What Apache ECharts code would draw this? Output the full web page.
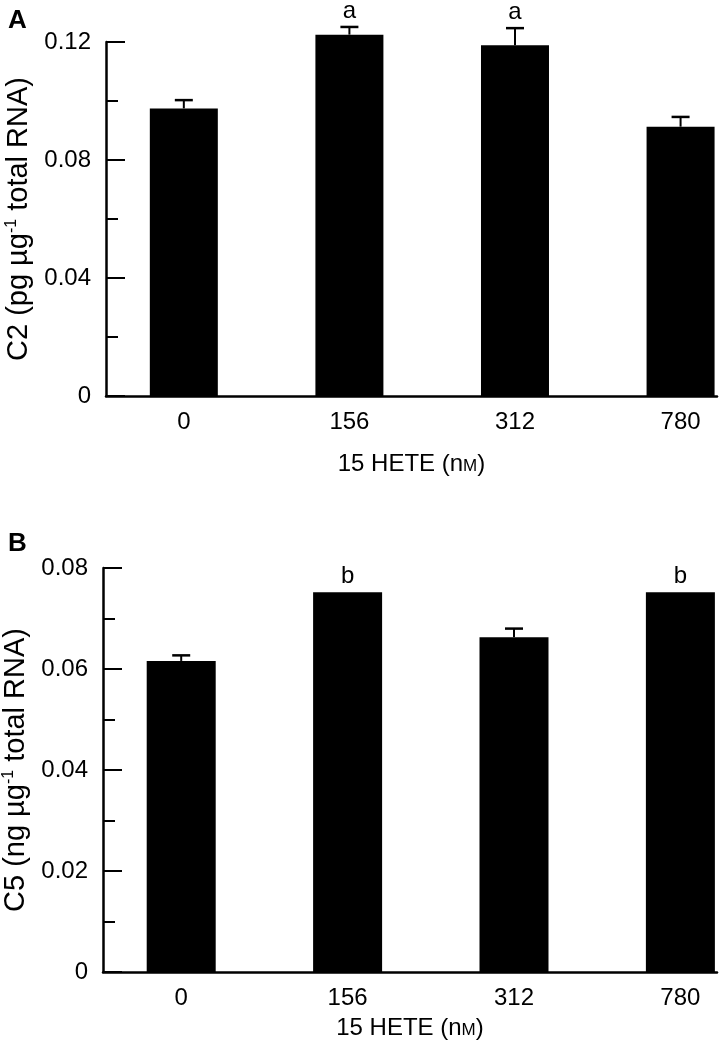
<!DOCTYPE html>
<html>
<head>
<meta charset="utf-8">
<script src="https://cdn.jsdelivr.net/npm/echarts@6/dist/echarts.min.js"></script>
<style>
html,body{margin:0;padding:0;background:#fff;}
#main{width:727px;height:1051px;}
</style>
</head>
<body>
<div id="main"></div>
<script>
// ---- data ----
const categories = ['0', '156', '312', '780'];
const c2Values = [0.0975, 0.1225, 0.1189, 0.0913];
const c2Errors = [0.0028, 0.0026, 0.0058, 0.0033];
const c2Letters = ['', 'a', 'a', ''];
const c5Values = [0.0616, 0.0752, 0.0663, 0.0752];
const c5Errors = [0.0011, 0, 0.0017, 0];
const c5Letters = ['', 'b', '', 'b'];
const c2Ticks = [0, 0.04, 0.08, 0.12];
const c5Ticks = [0, 0.02, 0.04, 0.06, 0.08];

const FONT = 'Liberation Sans';
const FS = 24;
const NFS = 29;

const chart = echarts.init(document.getElementById('main'), null, {renderer: 'canvas'});

function barData(vals) { return vals.map((v, i) => [i, v]); }
function errData(vals, errs, letters) { return vals.map((v, i) => [i, v, errs[i], letters[i]]); }

function errRender(params, api) {
  const x = api.value(0), v = api.value(1), e = api.value(2);
  const letter = api.value(3);
  const base = api.coord([x, v]);
  const top = api.coord([x, v + e]);
  const children = [];
  if (e > 0) {
    children.push({type: 'line', shape: {x1: base[0], y1: base[1], x2: top[0], y2: top[1]}, style: {stroke: '#000', lineWidth: 2}});
    children.push({type: 'line', shape: {x1: top[0] - 9, y1: top[1], x2: top[0] + 9, y2: top[1]}, style: {stroke: '#000', lineWidth: 2.5}});
  }
  if (letter) {
    children.push({type: 'text', x: top[0], y: top[1] - 4, style: {text: letter, fill: '#000', font: FS + 'px ' + FONT, textAlign: 'center', textVerticalAlign: 'bottom'}});
  }
  return {type: 'group', children: children};
}

function xAxisCfg(gridIndex, nameGap) {
  return {
    type: 'value', gridIndex: gridIndex, min: -0.47, max: 3.22,
    axisLine: {show: true, onZero: false, lineStyle: {color: '#000', width: 2.5}},
    axisTick: {show: false},
    splitLine: {show: false},
    axisLabel: {
      customValues: [0, 1, 2, 3],
      formatter: v => categories[Math.round(v)],
      color: '#000', fontSize: FS, fontFamily: FONT, margin: 14
    },
    name: '{t|15 HETE (n}{s|M}{t|)}',
    nameLocation: 'middle', nameGap: nameGap,
    nameTextStyle: {rich: {t: {fontSize: FS, fontFamily: FONT, color: '#000'}, s: {fontSize: 17, fontFamily: FONT, color: '#000', padding: [4, 0, 0, 0]}}}
  };
}

function yAxisCfg(gridIndex, max, interval, label, nameGap) {
  return {
    type: 'value', gridIndex: gridIndex, min: 0, max: max, interval: interval,
    axisLine: {show: true, onZero: false, lineStyle: {color: '#000', width: 2.5}},
    axisTick: {show: true, inside: true, length: 19, lineStyle: {color: '#000', width: 2}},
    minorTick: {show: true, splitNumber: 2, length: 12, lineStyle: {color: '#000', width: 2}},
    splitLine: {show: false},
    axisLabel: {color: '#000', fontSize: FS, fontFamily: FONT, margin: 15,
      formatter: v => (v === 0 ? '0' : String(+v.toFixed(2)))},
    name: label,
    nameLocation: 'middle', nameGap: nameGap, nameRotate: 90,
    nameTextStyle: {rich: {t: {fontSize: NFS, fontFamily: FONT, color: '#000'}, s: {fontSize: 16, fontFamily: FONT, color: '#000', padding: [0, 0, 14, 0]}}}
  };
}

chart.setOption({
  backgroundColor: '#fff',
  animation: false,
  title: [
    {text: 'A', left: 3, top: 3, textStyle: {fontSize: 26, fontWeight: 'bold', fontFamily: FONT, color: '#000'}},
    {text: 'B', left: 3, top: 526, textStyle: {fontSize: 26, fontWeight: 'bold', fontFamily: FONT, color: '#000'}}
  ],
  grid: [
    {left: 106, top: 42, right: 10, height: 354, containLabel: false, outerBoundsMode: 'none'},
    {left: 103, top: 568, right: 10, height: 404, containLabel: false, outerBoundsMode: 'none'}
  ],
  xAxis: [xAxisCfg(0, 56), xAxisCfg(1, 44)],
  yAxis: [
    yAxisCfg(0, 0.12, 0.04, '{t|C2 (pg µg}{s|-1}{t| total RNA)}', 72),
    yAxisCfg(1, 0.08, 0.02, '{t|C5 (ng µg}{s|-1}{t| total RNA)}', 69)
  ],
  series: [
    {type: 'bar', xAxisIndex: 0, yAxisIndex: 0, data: barData(c2Values), barWidth: 68, clip: false, itemStyle: {color: '#000'}},
    {type: 'custom', xAxisIndex: 0, yAxisIndex: 0, data: errData(c2Values, c2Errors, c2Letters), renderItem: errRender, clip: false, z: 5},
    {type: 'bar', xAxisIndex: 1, yAxisIndex: 1, data: barData(c5Values), barWidth: 69, clip: false, itemStyle: {color: '#000'}},
    {type: 'custom', xAxisIndex: 1, yAxisIndex: 1, data: errData(c5Values, c5Errors, c5Letters), renderItem: errRender, clip: false, z: 5}
  ]
});
</script>
</body>
</html>
